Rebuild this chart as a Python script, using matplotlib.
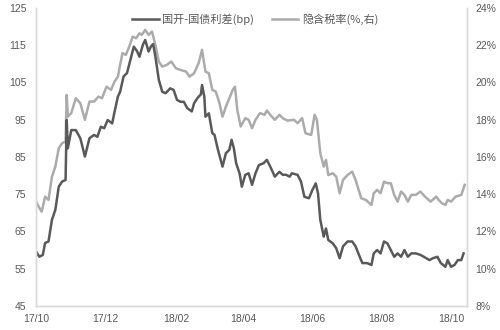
import numpy as np
import pandas as pd
import matplotlib
matplotlib.use('Agg')
import matplotlib.pyplot as plt
import matplotlib.dates as mdates
from matplotlib.ticker import FuncFormatter

plt.rcParams['font.family'] = ['Liberation Sans', 'Noto Sans CJK SC', 'DejaVu Sans']

# 国开-国债利差 (bp), 左轴; x 为自 2017-10-01 起的天数
spread_days = [0, 3, 6, 8, 11, 14, 17, 20, 23, 26, 27, 28, 31, 35, 39, 43, 47, 51, 54, 57,
               60, 63, 67, 69, 72, 74, 77, 80, 83, 86, 89, 91, 94, 96, 99, 101, 103, 105,
               108, 111, 114, 118, 121, 124, 127, 130, 133, 137, 139, 142, 145, 146, 148,
               149, 152, 155, 157, 160, 164, 167, 170, 172, 174, 176, 179, 181, 184, 187,
               190, 193, 196, 200, 203, 206, 210, 214, 217, 220, 223, 225, 230, 233, 236,
               240, 243, 246, 248, 250, 253, 255, 257, 261, 264, 267, 270, 274, 278, 281,
               284, 287, 291, 295, 297, 300, 303, 306, 309, 312, 315, 318, 321, 324, 327,
               330, 334, 338, 341, 346, 349, 353, 356, 360, 362, 365, 368, 371, 374, 376]
spread = [59.6, 58.2, 58.7, 61.9, 62.3, 68.1, 70.8, 77.0, 78.4, 78.8, 94.9, 87.3, 92.2,
          92.2, 90.0, 85.1, 90.0, 90.9, 90.4, 93.1, 92.7, 94.9, 94.0, 97.0, 101.2, 102.5,
          106.6, 107.5, 111.0, 114.6, 113.3, 111.9, 115.1, 116.4, 113.3, 114.6, 115.3,
          111.9, 105.7, 102.5, 102.1, 103.4, 103.0, 100.3, 99.8, 99.8, 98.1, 97.2, 99.4,
          100.8, 101.8, 104.3, 101.2, 95.8, 96.7, 91.4, 90.9, 86.9, 82.4, 86.0, 86.9,
          89.6, 87.3, 83.3, 80.6, 77.0, 80.2, 80.6, 77.5, 80.6, 82.8, 83.3, 84.2, 82.4,
          79.7, 81.0, 80.2, 80.2, 79.7, 80.6, 80.2, 78.4, 74.3, 73.9, 76.1, 77.9, 75.2,
          68.1, 63.6, 65.8, 62.7, 61.8, 60.5, 57.8, 61.0, 62.3, 62.3, 61.0, 58.7, 56.5,
          56.5, 56.0, 59.1, 60.0, 59.1, 62.3, 61.8, 60.0, 58.2, 59.1, 58.2, 60.0, 58.2,
          59.1, 59.1, 58.7, 58.2, 57.3, 57.8, 58.2, 56.5, 55.5, 57.3, 55.5, 56.0, 57.3,
          57.3, 59.1]

# 隐含税率 (%), 右轴
tax_days = [0, 3, 5, 8, 11, 14, 17, 20, 23, 26, 27, 28, 31, 35, 39, 43, 47, 51, 55, 58,
            62, 66, 69, 72, 76, 79, 82, 85, 88, 91, 93, 96, 99, 102, 105, 108, 111, 115,
            119, 123, 127, 132, 135, 139, 143, 146, 149, 152, 155, 158, 161, 164, 167,
            170, 173, 175, 177, 180, 184, 187, 190, 193, 197, 201, 203, 206, 210, 214,
            217, 221, 227, 230, 234, 237, 242, 245, 247, 250, 253, 255, 257, 261, 264,
            267, 270, 274, 278, 281, 286, 290, 295, 297, 300, 303, 306, 309, 312, 315,
            318, 321, 324, 327, 330, 334, 338, 342, 347, 352, 354, 357, 360, 362, 365,
            369, 374, 377]
tax = [13.60, 13.26, 13.06, 13.87, 13.69, 14.94, 15.48, 16.47, 16.74, 16.82, 19.33,
       18.16, 18.35, 19.15, 18.88, 17.99, 18.97, 18.97, 19.24, 19.15, 19.77, 19.60,
       20.04, 20.31, 21.57, 21.48, 21.92, 22.46, 22.37, 22.64, 22.55, 22.82, 22.55,
       22.73, 22.01, 21.12, 20.85, 20.94, 21.12, 20.76, 20.67, 20.58, 20.31, 20.49,
       21.03, 21.75, 20.58, 20.49, 19.60, 19.51, 18.97, 18.16, 18.70, 19.15, 19.60,
       19.77, 18.52, 17.63, 18.08, 17.99, 17.54, 17.99, 18.35, 18.26, 18.49, 18.26,
       17.99, 18.26, 18.08, 17.95, 17.99, 17.81, 18.08, 17.27, 17.18, 18.26, 17.99,
       16.20, 15.48, 15.84, 15.03, 15.12, 14.94, 14.05, 14.77, 15.03, 15.21, 14.77,
       13.78, 13.69, 13.42, 14.05, 14.23, 14.05, 14.67, 14.59, 14.59, 13.96, 13.60,
       14.14, 13.96, 13.60, 13.96, 13.96, 14.14, 13.87, 13.60, 13.87, 13.69, 13.51,
       13.42, 13.69, 13.60, 13.87, 13.96, 14.50]

start = pd.Timestamp('2017-10-01')
spread_dates = start + pd.to_timedelta(spread_days, unit='D')
tax_dates = start + pd.to_timedelta(tax_days, unit='D')

dark = '#595959'
light = '#ababab'
label_color = '#595959'

fig = plt.figure(figsize=(5, 3.3), dpi=100)
ax = fig.add_axes([0.072, 0.073, 0.862, 0.903])
ax2 = ax.twinx()

l1, = ax.plot(spread_dates, spread, color=dark, lw=1.8, label='国开-国债利差(bp)')
l2, = ax2.plot(tax_dates, tax, color=light, lw=1.8, label='隐含税率(%,右)')
ax.set_zorder(ax2.get_zorder() + 1)
ax.patch.set_visible(False)

ax.set_ylim(45, 125)
ax.set_yticks(np.arange(45, 126, 10))
ax2.set_ylim(8, 24)
ax2.set_yticks(np.arange(8, 25, 2))
ax2.yaxis.set_major_formatter(FuncFormatter(lambda v, p: f'{v:.0f}%'))

ax.set_xlim(start, start + pd.Timedelta(days=379))
ax.xaxis.set_major_locator(mdates.MonthLocator(bymonth=[2, 4, 6, 8, 10, 12]))
ax.xaxis.set_major_formatter(mdates.DateFormatter('%y/%m'))

for a in (ax, ax2):
    a.spines['top'].set_visible(False)
    for s in ('left', 'right', 'bottom'):
        a.spines[s].set_color('#d9d9d9')
        a.spines[s].set_linewidth(1.0)
    a.tick_params(length=0, labelsize=7.5, colors=label_color)
ax.tick_params(axis='x', pad=6)
ax.tick_params(axis='y', pad=7)
ax2.tick_params(axis='y', pad=6)

fig.legend(handles=[l1, l2], loc='center', bbox_to_anchor=(0.51, 0.942), ncol=2,
           frameon=False, handlelength=2.4, handletextpad=0.3,
           columnspacing=1.6, labelcolor=label_color,
           prop={'family': ['Noto Sans CJK SC', 'DejaVu Sans'], 'size': 8})

fig.savefig('out.png', dpi=100)
